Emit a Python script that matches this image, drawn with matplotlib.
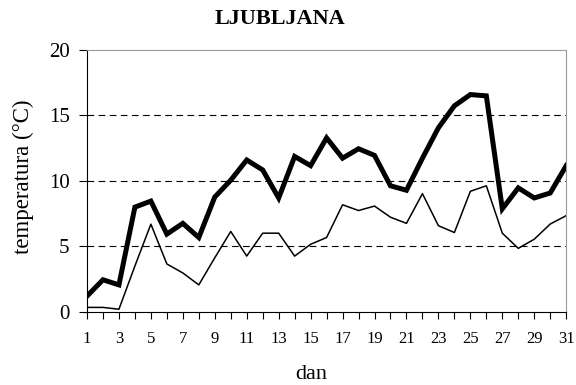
import matplotlib.pyplot as plt

plt.rcParams['font.family'] = ['Liberation Serif', 'DejaVu Serif']

dni = list(range(1, 32))
tmax = [1.2, 2.45, 2.06, 8.0, 8.46, 5.94, 6.76, 5.68, 8.77, 10.06, 11.6,
        10.84, 8.7, 11.87, 11.17, 13.29, 11.74, 12.46, 11.95, 9.63, 9.29,
        11.74, 14.06, 15.74, 16.6, 16.5, 7.87, 9.47, 8.7, 9.08, 11.17]
tmin = [0.34, 0.34, 0.2, 3.5, 6.7, 3.66, 2.97, 2.06, 4.13, 6.14, 4.26,
        6.01, 6.01, 4.26, 5.16, 5.68, 8.18, 7.74, 8.08, 7.23, 6.76,
        9.03, 6.58, 6.06, 9.21, 9.63, 6.01, 4.85, 5.55, 6.71, 7.35]

fig = plt.figure(figsize=(5.76, 3.85), dpi=100)
ax = fig.add_axes([0.151, 0.19, 0.832, 0.68])

# dashed grid lines
for y in [5, 10, 15]:
    ax.axhline(y, color='black', lw=0.8, ls=(0, (6, 4)), zorder=1)

ax.plot(dni, tmin, color='black', lw=1.1, zorder=3)
ax.plot(dni, tmax, color='black', lw=3.6, zorder=4, solid_joinstyle='miter')

ax.set_xlim(1, 31)
ax.set_ylim(0, 20)
ax.set_yticks([0, 5, 10, 15, 20])
ax.set_xticks(range(1, 32, 2))
ax.set_xticks(dni, minor=True)
ax.tick_params(axis='x', which='both', direction='out', length=5, width=0.8,
               labelsize=12, pad=8.5)
ax.tick_params(axis='y', direction='out', length=5.5, width=0.8,
               labelsize=15, pad=7)

for s in ['top', 'right']:
    ax.spines[s].set_color('#999999')
for s in ['left', 'bottom']:
    ax.spines[s].set_color('black')

fig.text(0.040, 0.542, 'temperatura (°C)', rotation=90, ha='center',
         va='center', fontsize=16.5)
fig.text(0.540, 0.028, 'dan', ha='center', va='center', fontsize=16)
fig.text(0.486, 0.950, 'LJUBLJANA', ha='center', va='center',
         fontsize=16, fontweight='bold')

fig.savefig('out.png', dpi=100)
